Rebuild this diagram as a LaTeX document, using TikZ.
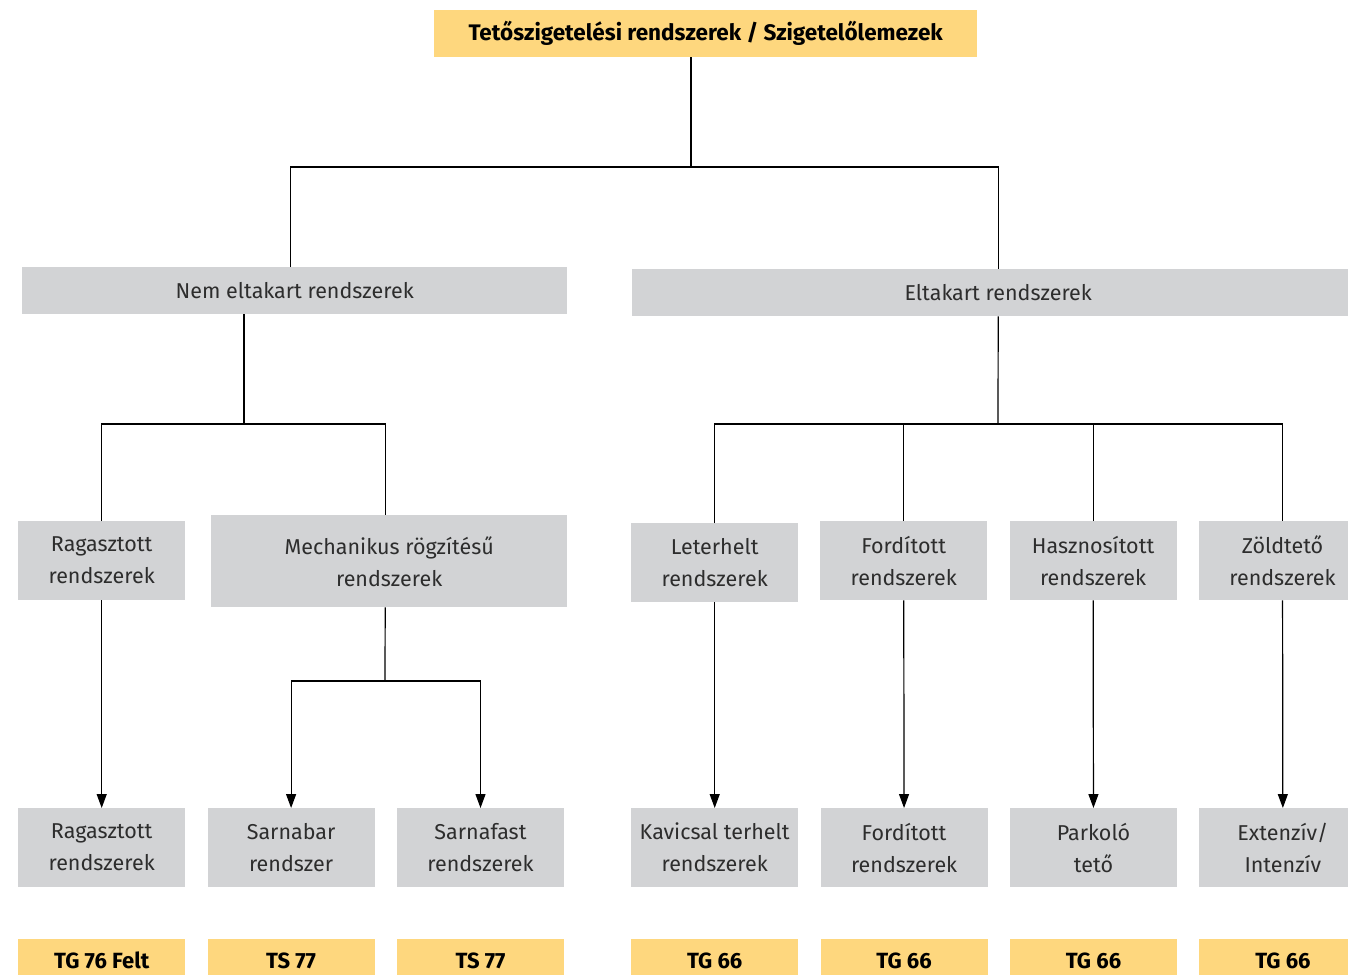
\documentclass[tikz,border=0pt]{standalone}
\usepackage{fontspec}
\setmainfont{Fira Sans}
\usepackage{xcolor}
\usepackage{tikz}
\usetikzlibrary{arrows.meta, positioning}

\definecolor{roofyellow}{RGB}{254,215,126}
\definecolor{roofgray}{RGB}{210,211,213}
\definecolor{rooftext}{RGB}{45,45,45}

\begin{document}
\begin{tikzpicture}[
    x=1pt, y=-1pt,
    node distance=22pt,
    title/.style={rectangle, fill=roofyellow, minimum width=543pt, minimum height=47pt, inner sep=0pt, font=\fontsize{22.5}{24}\selectfont\bfseries},
    group/.style={rectangle, fill=roofgray, minimum height=47pt, inner sep=0pt, text=rooftext, font=\fontsize{21.5}{24}\selectfont},
    system/.style={rectangle, fill=roofgray, minimum width=167pt, minimum height=79pt, inner sep=0pt, align=center, text=rooftext, font=\fontsize{21.5}{32}\selectfont},
    product/.style={rectangle, fill=roofyellow, minimum width=167pt, minimum height=44pt, inner sep=0pt, font=\fontsize{22}{24}\selectfont\bfseries},
    link/.style={line width=1.2pt},
    arrow/.style={-{Triangle[length=14pt,width=10pt]}, line width=1.2pt}
]
\useasboundingbox (0,0) rectangle (1348,974);

% Top
\node[title, anchor=north west] (roof) at (434,10) {Tetőszigetelési rendszerek / Szigetelőlemezek};

% Exposed / covered
\node[group, minimum width=545pt, anchor=north west] (exposed) at (22,267) {Nem eltakart rendszerek};
\node[group, minimum width=732pt, anchor=north west] (covered) at (632,269) {Eltakart rendszerek};

% Systems, left side
\node[system, anchor=north west] (glued) at (18,521) {Ragasztott\\rendszerek};
\node[system, minimum width=356pt, minimum height=92pt, anchor=north west] (mech) at (211,515) {Mechanikus rögzítésű\\rendszerek};

% Systems, right side
\node[system, anchor=north west] (ballast) at (631,523) {Leterhelt\\rendszerek};
\node[system, anchor=north west] (inverted) at (820,521) {Fordított\\rendszerek};
\node[system, right=of inverted] (usable) {Hasznosított\\rendszerek};
\node[system, right=of usable] (green) {Zöldtető\\rendszerek};

% Sub-systems
\node[system, anchor=north west] (gluedsys) at (18,808) {Ragasztott\\rendszerek};
\node[system, right=of gluedsys] (sarnabar) {Sarnabar\\rendszer};
\node[system, right=of sarnabar] (sarnafast) {Sarnafast\\rendszerek};
\node[system, anchor=north west] (gravel) at (631,808) {Kavicsal terhelt\\rendszerek};
\node[system, right=of gravel] (invsys) {Fordított\\rendszerek};
\node[system, right=of invsys] (parking) {Parkoló\\tető};
\node[system, right=of parking] (extint) {Extenzív/\\Intenzív};

% Products
\node[product, below=51pt of gluedsys] (tgfelt) {TG 76 Felt};
\node[product, below=51pt of sarnabar] (tsbar) {TS 77};
\node[product, below=51pt of sarnafast] (tsfast) {TS 77};
\node[product, below=51pt of gravel] (tggravel) {TG 66};
\node[product, below=51pt of invsys] (tginv) {TG 66};
\node[product, below=51pt of parking] (tgpark) {TG 66};
\node[product, below=51pt of extint] (tgext) {TG 66};

% Tree lines
\coordinate (split0) at (691,167);
\coordinate (split1) at (244,424);
\coordinate (split2) at (998,424);
\coordinate (split3) at (385,681);

\draw[link] (roof.south -| split0) -- (split0);
\draw[link] ([xshift=-4.5pt]exposed.north) |- (split0) -| (covered.north);

\draw[link] (exposed.south -| split1) -- (split1);
\draw[link] (glued.north) |- (split1) -| ([xshift=-4pt]mech.north);

\draw[link] (covered.south) -- (split2);
\draw[link] (ballast.north) |- (split2) -| (green.north);
\draw[link] (inverted.north) -- (inverted.north |- split2);
\draw[link] (usable.north) -- (usable.north |- split2);

% Arrows
\draw[arrow] (glued) -- (gluedsys);
\draw[link] ([xshift=-4pt]mech.south) -- (split3);
\draw[arrow] (split3) -| (sarnabar.north);
\draw[arrow] (split3) -| (sarnafast.north);
\draw[arrow] (ballast) -- (gravel);
\draw[arrow] (inverted) -- (invsys);
\draw[arrow] (usable) -- (parking);
\draw[arrow] (green) -- (extint);

\end{tikzpicture}
\end{document}
